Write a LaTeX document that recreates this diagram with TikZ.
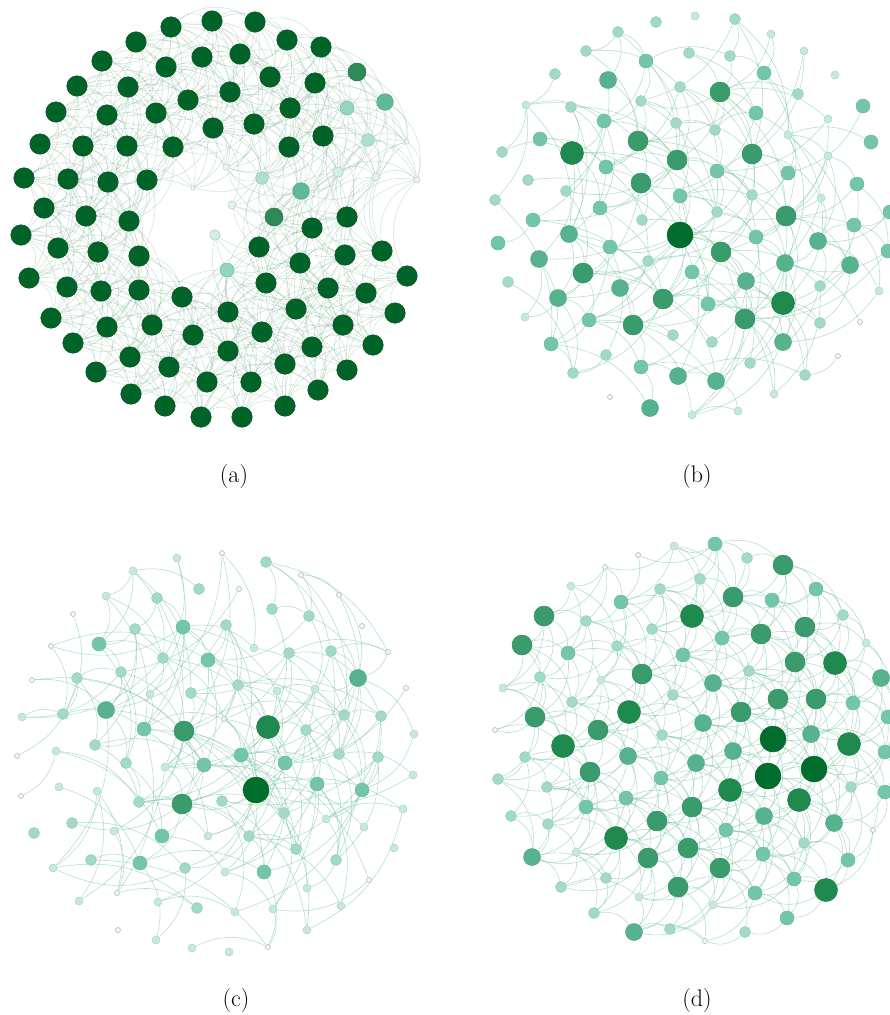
\documentclass[tikz,border=0pt]{standalone}
\usepackage{tikz}
\pgfdeclarelayer{edges}
\pgfsetlayers{edges,main}
% colours
\definecolor{cA}{HTML}{006428}\definecolor{cAd}{HTML}{0D4F25}
\definecolor{cB}{HTML}{2E8B57}\definecolor{cBd}{HTML}{25734A}
\definecolor{cC}{HTML}{5FBA97}\definecolor{cCd}{HTML}{4E9F80}
\definecolor{cE}{HTML}{93D5BD}\definecolor{cEd}{HTML}{78B9A2}
\definecolor{cF}{HTML}{AEE0CD}\definecolor{cFd}{HTML}{8FC4B0}
\definecolor{cG}{HTML}{D3EEE5}\definecolor{cGd}{HTML}{A9C9BD}
\definecolor{cH}{HTML}{E2F3ED}\definecolor{cHd}{HTML}{B5C9C1}
\definecolor{cI}{HTML}{EEF8F4}\definecolor{cId}{HTML}{BCC8C3}
\definecolor{ct}{HTML}{F0F8F5}\definecolor{ctd}{HTML}{A9B3AF}
\definecolor{cs}{HTML}{C6E9DD}\definecolor{csd}{HTML}{AAD5C6}
\definecolor{cl}{HTML}{A2DAC7}\definecolor{cld}{HTML}{8FCDB8}
\definecolor{cm}{HTML}{74C6A8}\definecolor{cmd}{HTML}{66BB9C}
\definecolor{cn}{HTML}{57B38E}\definecolor{cnd}{HTML}{4EA885}
\definecolor{cd}{HTML}{3A9B6C}\definecolor{cdd}{HTML}{348F63}
\definecolor{ce}{HTML}{1E8A4E}\definecolor{ced}{HTML}{1A7C46}
\definecolor{cx}{HTML}{006D2C}\definecolor{cxd}{HTML}{00642A}
\definecolor{edgeA}{HTML}{5A9E78}
\definecolor{edgeB}{HTML}{7CC4A8}
\tikzset{
 nd/.style={circle, inner sep=0pt, line width=0.5pt},
 kA/.style={nd, minimum size=20.5pt, fill=cA, draw=cAd},
 kB/.style={nd, minimum size=18pt, fill=cB, draw=cBd},
 kC/.style={nd, minimum size=16.6pt, fill=cC, draw=cCd},
 kE/.style={nd, minimum size=14pt, fill=cE, draw=cEd},
 kF/.style={nd, minimum size=12.6pt, fill=cF, draw=cFd},
 kG/.style={nd, minimum size=10.6pt, fill=cG, draw=cGd},
 kH/.style={nd, minimum size=8pt, fill=cH, draw=cHd},
 kI/.style={nd, minimum size=6pt, fill=cI, draw=cId},
 kJ/.style={nd, minimum size=4.4pt, fill=cI, draw=cId},
 kt/.style={nd, minimum size=5pt, fill=ct, draw=ctd},
 ks/.style={nd, minimum size=8pt, fill=cs, draw=csd},
 kl/.style={nd, minimum size=11pt, fill=cl, draw=cld},
 km/.style={nd, minimum size=14pt, fill=cm, draw=cmd},
 kn/.style={nd, minimum size=17pt, fill=cn, draw=cnd},
 kd/.style={nd, minimum size=20pt, fill=cd, draw=cdd},
 ke/.style={nd, minimum size=23pt, fill=ce, draw=ced},
 kx/.style={nd, minimum size=26pt, fill=cx, draw=cxd},
 edgeA/.style={draw=edgeA, opacity=0.28, line width=0.55pt, bend left=35},
 edgeB/.style={draw=edgeB, opacity=0.55, line width=0.6pt, bend left=25},
 edgeD/.style={draw=edgeB, opacity=0.55, line width=0.6pt, bend left=30},
 lab/.style={font=\fontsize{24}{28}\selectfont, inner sep=0pt},
}
\def\wtA{1}\def\wtB{1}\def\wtC{1}\def\wtE{1}\def\wtF{1}\def\wtG{1}\def\wtH{1}\def\wtI{1}\def\wtJ{1}
\def\wtt{0.3}\def\wts{0.8}\def\wtl{1.2}\def\wtm{2}\def\wtn{3}\def\wtd{4}\def\wte{5}\def\wtx{8}
\newcommand\mknodes[2]{%
  \foreach \px/\py/\cl [count=\k] in {#2}{%
    \node[k\cl] (#1\k) at (\px,\py) {};
    \expandafter\xdef\csname w@#1\k\endcsname{\csname wt\cl\endcsname}%
    \expandafter\xdef\csname N@#1\endcsname{\k}%
  }%
}
\makeatletter
% prefix, threshold, K (0 = all), style, hole x, hole y, hole radius (0 = none)
\newcommand\linkpairs[7]{%
  \edef\NN{\csname N@#1\endcsname}%
  \foreach \i in {1,...,\NN}{%
    \foreach \j in {\i,...,\NN}{%
      \ifnum\j>\i\relax
        \pgfpointdiff{\pgfpointanchor{#1\i}{center}}{\pgfpointanchor{#1\j}{center}}%
        \ifdim\pgf@x<0pt \pgf@x=-\pgf@x\fi
        \ifdim\pgf@y<0pt \pgf@y=-\pgf@y\fi
        \ifdim\pgf@x<#2pt \ifdim\pgf@y<#2pt
          \edef\rx{\the\pgf@x}\edef\ry{\the\pgf@y}%
          \pgfmathsetmacro\dd{veclen(\rx,\ry)}%
          \ifdim\dd pt<#2pt
            \ifnum#3=0 \def\ok{1}\else
              \pgfmathtruncatemacro\ok{rnd<((\csname w@#1\i\endcsname+\csname w@#1\j\endcsname)/#3*(1-\dd/#2))}%
            \fi
            \ifnum#7>0
              \pgfpointanchor{#1\i}{center}\edef\xa{\the\pgf@x}\edef\ya{\the\pgf@y}%
              \pgfpointanchor{#1\j}{center}\edef\xb{\the\pgf@x}\edef\yb{\the\pgf@y}%
              \pgfmathtruncatemacro\inhole{veclen((\xa+\xb)/2-#5,(\ya+\yb)/2+#6)<#7}%
              \ifnum\inhole=1 \def\ok{0}\fi
            \fi
            \ifnum\ok=1 \draw[#4] (#1\i) to (#1\j);\fi
          \fi
        \fi\fi
      \fi
    }%
  }%
}
\makeatother
\begin{document}
\begin{tikzpicture}[x=1pt,y=-1pt]
\pgfmathsetseed{7}
\path[use as bounding box] (0,0) rectangle (890,1015);
% ---------- panel (a)
\mknodes{a}{171/27/A,212/21/A,255/22/A,287/40/A,321/47/A,136/42/A,102/61/A,166/67/A,202/57/A,240/54/A,270/77/A,315/83/A,77/86/A,128/87/A,188/100/A,230/92/A,290/108/A,56/112/A,107/115/A,156/113/A,213/128/A,254/124/A,40/144/A,83/146/A,127/146/A,173/147/A,289/147/A,323/136/A,24/178/A,68/179/A,108/182/A,147/180/A,44/208/A,86/216/A,129/221/A,21/235/A,58/248/A,98/252/A,139/256/A,29/278/A,67/287/A,101/291/A,139/290/A,51/318/A,107/327/A,152/325/A,182/297/A,73/343/A,130/357/A,169/367/A,193/335/A,228/312/A,96/372/A,131/394/A,165/406/A,201/417/A,207/382/A,228/351/A,242/417/A,251/382/A,262/332/A,285/406/A,285/364/A,296/309/A,312/347/A,318/390/A,347/370/A,343/325/A,373/345/A,395/313/A,328/288/A,366/293/A,407/276/A,266/283/A,300/263/A,345/255/A,382/251/A,259/247/A,312/228/A,347/217/A,357/72/B,385/102/C,347/108/E,368/140/F,338/172/G,376/177/H,407/142/J,417/180/I,274/217/B,301/191/C,262/178/F,227/270/E,215/235/G,232/205/H,226/167/I,193/188/J}
% ---------- panel (b)
\mknodes{b}{695/16/s,656/22/l,735/19/l,618/32/l,771/34/s,804/51/s,586/51/l,646/61/m,689/53/l,730/56/l,764/73/m,835/75/s,555/74/l,608/80/n,680/87/l,720/92/d,798/94/l,863/106/m,526/105/s,571/107/l,641/101/l,604/121/m,676/123/l,715/130/l,756/113/m,828/119/s,788/135/s,871/142/m,502/152/l,540/139/m,572/153/e,638/141/d,606/167/m,677/160/d,717/171/m,752/154/d,828/156/s,788/173/m,528/180/l,641/183/d,566/191/l,680/196/m,752/195/l,857/184/m,821/198/s,495/200/l,600/208/m,717/212/l,786/216/d,890/212/m,533/220/m,642/220/l,680/235/x,569/234/n,756/237/m,818/241/n,854/225/m,498/243/m,610/247/m,721/252/d,888/251/m,539/259/n,648/261/l,583/273/d,692/272/m,785/263/n,850/265/n,508/282/l,746/281/n,620/288/n,820/286/l,558/298/n,663/299/d,708/304/m,783/303/e,879/291/s,525/317/s,589/320/m,633/325/d,745/319/d,820/323/l,860/322/t,551/344/m,673/335/l,712/342/l,783/342/n,606/355/l,641/367/m,750/363/l,838/356/t,573/373/l,678/376/n,716/381/n,805/375/l,610/397/t,774/394/s,650/408/n,692/415/s,738/411/s}
% ---------- panel (c)
\mknodes{c}{177/558/s,222/553/t,266/562/l,133/571/s,301/575/t,106/596/s,157/598/l,199/589/l,239/589/t,339/595/t,272/609/l,73/614/t,309/616/l,362/626/t,135/629/l,183/627/m,226/625/l,51/646/t,99/644/m,254/648/s,289/653/l,331/651/l,388/652/t,163/658/l,208/660/m,32/680/t,77/678/l,121/672/l,238/685/l,358/678/n,406/688/t,150/694/s,191/693/l,277/691/s,315/689/s,22/717/s,63/714/l,106/710/n,144/729/m,184/731/d,224/719/t,268/727/e,306/730/l,344/715/l,381/716/l,414/734/s,56/751/s,95/745/l,17/756/t,126/763/l,165/767/s,204/765/m,241/755/m,285/763/m,339/754/l,378/757/l,413/775/s,59/787/s,97/791/s,21/796/t,256/790/x,317/784/m,362/790/m,139/802/l,182/804/d,222/801/l,284/813/l,326/819/s,403/809/s,72/823/l,34/833/l,114/831/s,162/836/m,208/836/s,249/836/l,364/827/s,91/860/l,140/863/m,185/868/l,296/849/l,336/860/l,394/848/s,53/868/s,225/872/s,264/872/m,117/893/t,307/888/s,369/880/t,79/901/s,158/902/s,197/908/l,235/912/s,273/909/s,341/906/s,118/930/t,307/930/s,156/940/s,192/948/s,229/952/s,268/947/t}
% ---------- panel (d)
\mknodes{d}{715/544/m,674/546/s,638/555/t,605/567/t,747/558/l,783/565/d,700/579/l,660/589/l,816/589/m,571/586/s,621/602/m,733/597/d,772/600/m,843/615/l,544/616/d,586/621/l,692/616/e,652/629/l,805/627/d,866/643/s,522/645/d,568/653/m,617/646/l,722/638/m,761/634/d,683/655/m,795/662/d,835/663/e,881/678/n,540/677/l,503/688/s,601/680/s,642/674/d,749/671/l,713/683/n,572/702/l,673/695/l,778/699/d,816/699/d,853/703/m,741/712/d,535/717/d,629/712/e,888/717/m,703/723/n,495/730/t,598/730/d,662/735/l,773/739/x,811/734/n,849/744/e,563/746/e,628/756/n,733/751/n,696/763/n,885/752/m,525/757/l,590/772/d,768/776/x,814/769/x,498/779/l,661/778/m,730/790/e,851/787/l,547/787/l,885/792/m,626/798/m,692/807/d,799/800/e,586/807/m,764/816/n,657/821/d,834/823/n,511/816/l,548/824/l,726/830/m,873/830/t,616/838/e,804/843/l,688/848/d,763/854/m,648/858/d,576/852/s,532/857/n,848/860/m,720/868/d,794/879/m,606/878/l,678/887/d,826/890/e,561/887/l,755/893/m,639/897/s,713/905/s,594/913/l,787/918/m,634/932/n,670/929/l,745/932/l,705/941/t}
% ---------- edges
\begin{pgfonlayer}{edges}
\linkpairs{a}{112}{0}{edgeA}{198}{225}{62}
\linkpairs{b}{175}{12}{edgeB}{0}{0}{0}
\linkpairs{c}{200}{12}{edgeB}{0}{0}{0}
\linkpairs{d}{100}{2}{edgeD}{0}{0}{0}
\end{pgfonlayer}
% ---------- labels
\node[lab] (la) at (234,477) {(a)};
\node[lab] (lb) at (697,477) {(b)};
\node[lab] (lc) at (236,1000) {(c)};
\node[lab] (ld) at (697,1000) {(d)};
\end{tikzpicture}
\end{document}
